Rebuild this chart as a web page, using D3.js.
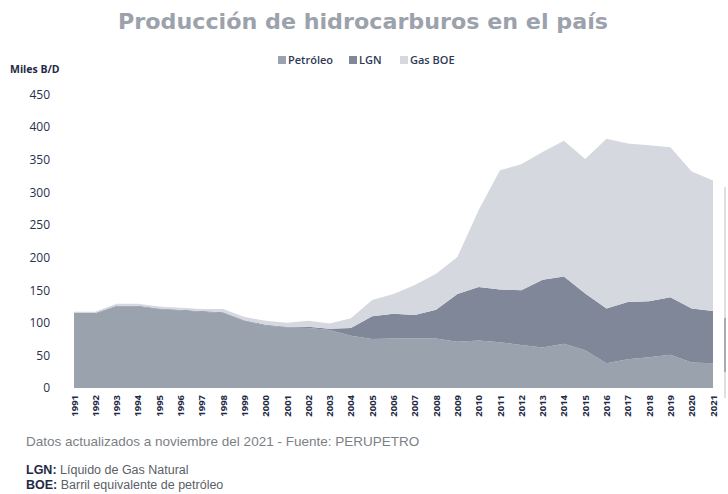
<html>
<head>
<meta charset="utf-8">
<script src="https://d3js.org/d3.v7.min.js"></script>
<style>
body { margin: 0; background: #fff; }
svg text { font-family: "Open Sans", sans-serif; }
</style>
</head>
<body>
<svg id="chart" width="728" height="494"></svg>
<script>
// years and the three stacked series (miles de barriles por dia)
var years = [1991,1992,1993,1994,1995,1996,1997,1998,1999,2000,2001,2002,2003,2004,2005,2006,
  2007,2008,2009,2010,2011,2012,2013,2014,2015,2016,2017,2018,2019,2020,2021];
var petroleo = [114,114,125,125,121,119,117,115,103,96,93,92,89,80,75,76,
  76,76,71,73,70,66,62,68,58,38,44,47,51,39,38];
var lgn = [1,1,1,1,1,1,1,1,1,1,1,2,2,12,35,38,
  36,44,73,82,81,84,104,103,87,84,88,86,88,83,80];
var gasBoe = [2,2,3,3,3,3,3,5,5,6,6,9,8,15,25,30,
  46,55,57,118,183,193,196,208,206,260,243,239,230,210,200];
var yTicks = [0,50,100,150,200,250,300,350,400,450];

var seriesNames = ['Petróleo','LGN','Gas BOE'];
var colors = ['#9aa2ae','#7f8799','#d5d8df'];

var svg = d3.select('#chart');
var x0 = 74, x1 = 713, yb = 388, yt = 94.5;

var table = years.map(function(y, i) {
  return {year: y, 'Petróleo': petroleo[i], 'LGN': lgn[i], 'Gas BOE': gasBoe[i]};
});

var xs = d3.scaleLinear().domain([1991, 2021]).range([x0, x1]);
var ys = d3.scaleLinear().domain([0, 450]).range([yb, yt]);

var stack = d3.stack().keys(seriesNames)(table);

var area = d3.area()
  .x(function(d) { return xs(d.data.year); })
  .y0(function(d) { return ys(d[0]); })
  .y1(function(d) { return ys(d[1]); });

svg.append('g').selectAll('path').data(stack).enter().append('path')
  .attr('d', area)
  .attr('fill', function(d, i) { return colors[i]; });

// title
svg.append('text')
  .attr('x', 118).attr('y', 29)
  .attr('textLength', 490).attr('lengthAdjust', 'spacingAndGlyphs')
  .style('font-family', '"DejaVu Sans", sans-serif')
  .style('font-weight', 700)
  .style('font-size', '21px')
  .attr('fill', '#9ca2ac')
  .text('Producción de hidrocarburos en el país');

// y axis
svg.append('g')
  .attr('transform', 'translate(' + 50 + ',0)')
  .call(d3.axisLeft(ys).tickValues(yTicks).tickSize(0).tickPadding(0))
  .call(function(g) {
    g.select('.domain').remove();
    g.selectAll('text')
      .style('font-family', '"Open Sans", sans-serif')
      .style('font-size', '12px')
      .attr('fill', '#26314b');
  });

svg.append('text')
  .attr('x', 10).attr('y', 73)
  .style('font-size', '10.5px').style('font-weight', 700)
  .attr('fill', '#1f2a45')
  .text('Miles B/D');

// x axis (rotated year labels)
svg.append('g')
  .attr('transform', 'translate(0,' + 393 + ')')
  .call(d3.axisBottom(xs).tickValues(years).tickFormat(d3.format('d')).tickSize(0).tickPadding(0))
  .call(function(g) {
    g.select('.domain').remove();
    g.selectAll('text')
      .attr('transform', 'rotate(-90)')
      .attr('text-anchor', 'end')
      .attr('x', -2).attr('y', 0).attr('dy', '0.32em')
      .style('font-family', '"Open Sans", sans-serif')
      .style('font-size', '9.5px')
      .style('font-weight', 700)
      .attr('fill', '#1f2a45');
  });

// legend
var legend = svg.append('g').attr('transform', 'translate(278,55)');
var lx = [0, 71, 122];
seriesNames.forEach(function(name, i) {
  var g = legend.append('g').attr('transform', 'translate(' + lx[i] + ',0)');
  g.append('rect').attr('width', 8).attr('height', 8).attr('y', 1).attr('fill', colors[i]);
  g.append('text').attr('x', 10).attr('y', 9)
    .style('font-size', '11px')
    .style('font-weight', 600)
    .attr('fill', '#2e3a55')
    .text(name);
});

// cropped edge of the neighbouring panel
svg.append('line').attr('x1', 725).attr('x2', 725).attr('y1', 187).attr('y2', 398)
  .attr('stroke', '#c9ccd3').attr('stroke-width', 1.2);
svg.append('line').attr('x1', 725).attr('x2', 725).attr('y1', 318).attr('y2', 372)
  .attr('stroke', '#7f8799').attr('stroke-width', 1.2);

// notes
svg.append('text').attr('x', 26).attr('y', 446)
  .style('font-family', '"Liberation Sans", Arial, sans-serif')
  .style('font-size', '13.5px').attr('fill', '#7b7f86')
  .text('Datos actualizados a noviembre del 2021 - Fuente: PERUPETRO');

var notes = [['LGN:', ' Líquido de Gas Natural'], ['BOE:', ' Barril equivalente de petróleo']];
notes.forEach(function(n, i) {
  var t = svg.append('text').attr('x', 26).attr('y', 474 + i * 15)
    .style('font-family', '"Liberation Sans", Arial, sans-serif')
    .style('font-size', '12.5px');
  t.append('tspan').style('font-weight', 700).attr('fill', '#1f2a45').text(n[0]);
  t.append('tspan').attr('fill', '#5a5f68').text(n[1]);
});
</script>
</body>
</html>
